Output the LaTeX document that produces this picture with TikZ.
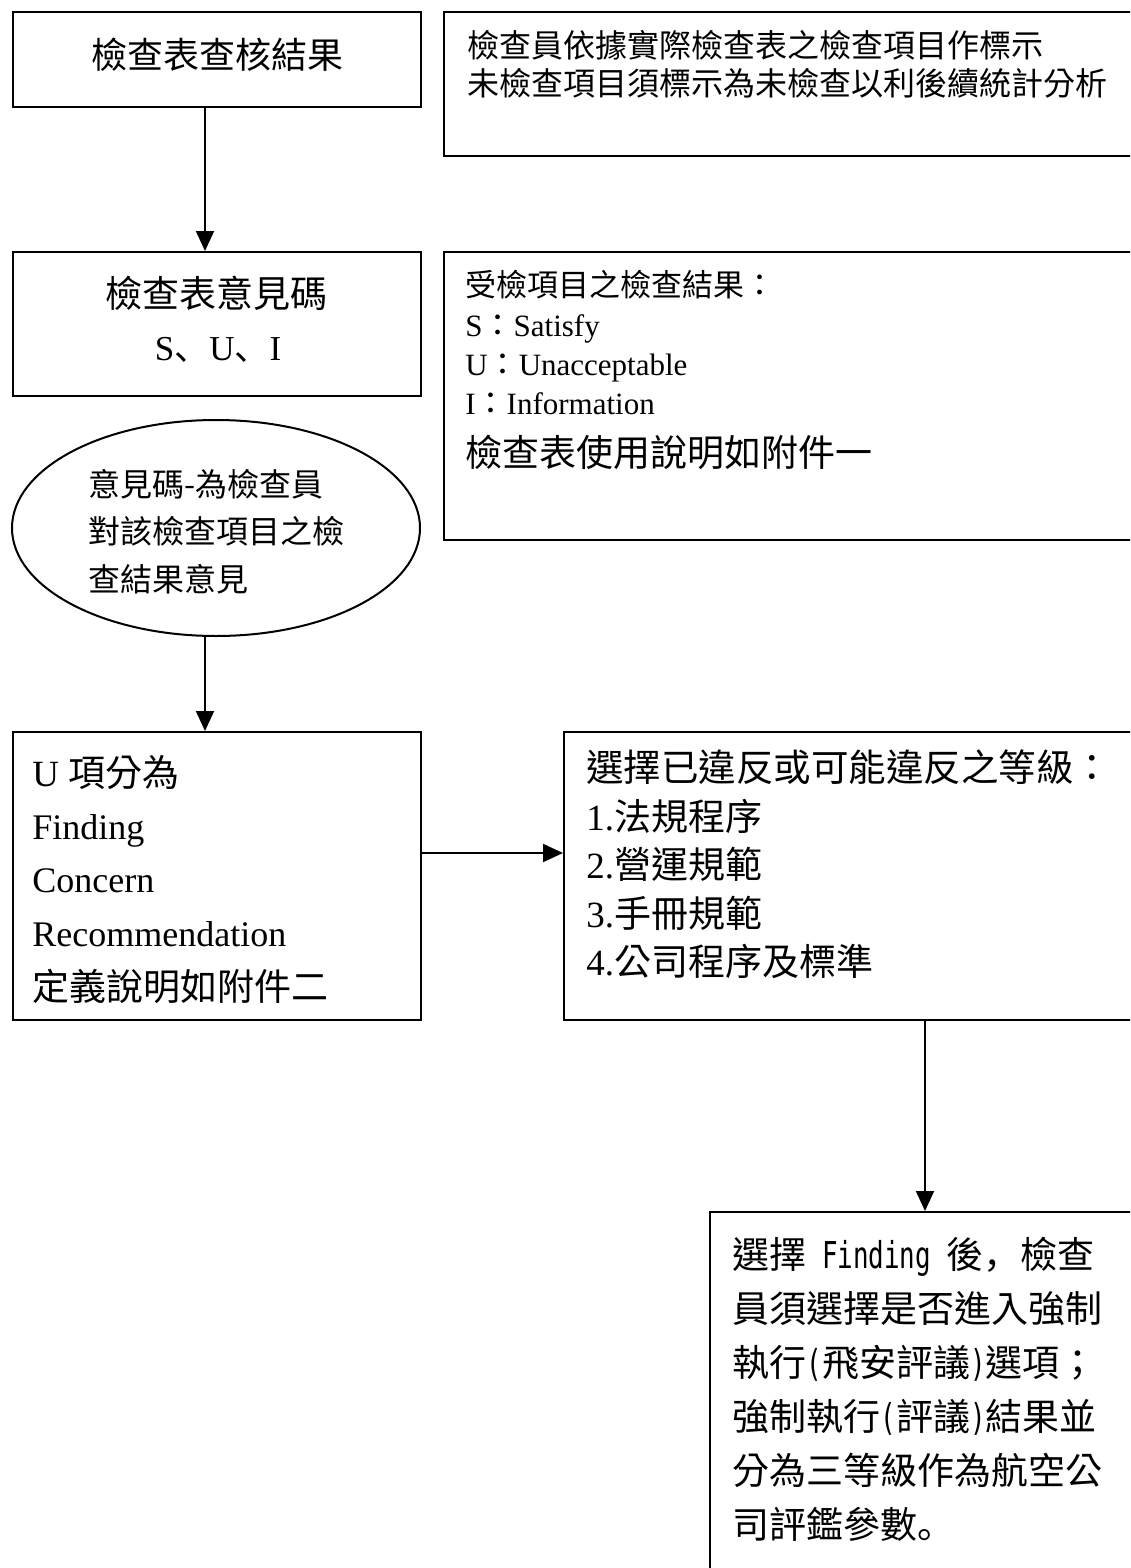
\documentclass[tikz,border=0pt]{standalone}
\usepackage{fontspec}
\setmainfont{Noto Sans CJK TC}
\newfontfamily\tm{Liberation Serif}
\newfontfamily\jp{Noto Sans CJK JP}
\newfontfamily\mono[FakeStretch=0.7]{DejaVu Sans Mono}
\usetikzlibrary{arrows.meta,shapes.geometric,fit}
\newcommand\fs[1]{\fontsize{#1pt}{#1pt}\selectfont}
\begin{document}
\begin{tikzpicture}[x=0.5pt,y=-0.5pt,
  box/.style={draw,line width=1pt,inner sep=0pt,rectangle},
  ln/.style={inner sep=0pt,anchor=base west},
  lc/.style={inner sep=0pt,anchor=base},
  arr/.style={line width=1pt,-{Triangle[length=10pt,width=9pt]}}]
\useasboundingbox (0,0) rectangle (1130,1568);
\clip (0,0) rectangle (1130,1568);
\fill[white] (0,0) rectangle (1130,1568);

% boxes
\node[box,fit={(13,12) (421,107)}] (b1) {};
\node[box,fit={(444,12) (1150,156)}] (r1) {};
\node[box,fit={(13,252) (421,396)}] (b2) {};
\node[box,fit={(444,252) (1150,540)}] (r2) {};
\node[draw,line width=1pt,ellipse,inner sep=0pt,minimum width=204pt,minimum height=108pt] (el) at (216,528) {};
\node[box,fit={(13,732) (421,1020)}] (b3) {};
\node[box,fit={(564,732) (1150,1020)}] (b4) {};
\node[box,fit={(710,1212) (1150,1620)}] (b5) {};

% texts
\node[lc] (t1) at (217,69) {\fs{18}檢查表查核結果};

\node[ln] (r1a) at (467,58) {\fs{16}檢查員依據實際檢查表之檢查項目作標示};
\node[ln] (r1b) at (467,96) {\fs{16}未檢查項目須標示為未檢查以利後續統計分析};

\node[lc] (t2a) at (216,307) {\fs{18.5}檢查表意見碼};
\node[lc] (t2b) at (218,360) {\fs{17.5}{\tm S}{\jp 、}{\tm U}{\jp 、}{\tm I}};

\node[ln] (r2a) at (465,296) {\fs{15.5}受檢項目之檢查結果：};
\node[ln] (r2b) at (465,336) {\fs{15.5}{\tm S}：{\tm Satisfy}};
\node[ln] (r2c) at (465,375) {\fs{15.5}{\tm U}：{\tm Unacceptable}};
\node[ln] (r2d) at (465,414) {\fs{15.5}{\tm I}：{\tm Information}};
\node[ln] (r2e) at (465,466) {\fs{18.5}檢查表使用說明如附件一};

\node[ln] (e1) at (88,496) {\fs{16}意見碼-為檢查員};
\node[ln] (e2) at (88,543) {\fs{16}對該檢查項目之檢};
\node[ln] (e3) at (88,591) {\fs{16}查結果意見};

\node[ln] (t3a) at (32,786) {\fs{18.5}{\tm U }項分為};
\node[ln] (t3b) at (32,839) {\fs{18}\tm Finding};
\node[ln] (t3c) at (32,892) {\fs{18}\tm Concern};
\node[ln] (t3d) at (32,946) {\fs{18}\tm Recommendation};
\node[ln] (t3e) at (32,1000) {\fs{18.5}定義說明如附件二};

\node[ln] (t4a) at (586,781) {\fs{18.75}選擇已違反或可能違反之等級：};
\node[ln] (t4b) at (586,830) {\fs{18.5}{\tm 1.}法規程序};
\node[ln] (t4c) at (586,878) {\fs{18.5}{\tm 2.}營運規範};
\node[ln] (t4d) at (586,927) {\fs{18.5}{\tm 3.}手冊規範};
\node[ln] (t4e) at (586,975) {\fs{18.5}{\tm 4.}公司程序及標準};

\node[ln] (t5a) at (732,1268) {\fs{18.5}選擇{\mono\ Finding\ }後{\jp ，}檢查};
\node[ln] (t5b) at (732,1322) {\fs{18.5}員須選擇是否進入強制};
\node[ln] (t5c) at (732,1376) {\fs{18.5}執行{\mono(}飛安評議{\mono)}選項；};
\node[ln] (t5d) at (732,1430) {\fs{18.5}強制執行{\mono(}評議{\mono)}結果並};
\node[ln] (t5e) at (732,1484) {\fs{18.5}分為三等級作為航空公};
\node[ln] (t5f) at (732,1538) {\fs{18.5}司評鑑參數{\jp 。}};

% connectors
\coordinate (ax1) at (205,0);
\coordinate (ax2) at (925,0);
\coordinate (ay) at (0,853);
\draw[arr] (b1.south -| ax1) -- (b2.north -| ax1);
\draw[arr] (el.south -| ax1) -- (b3.north -| ax1);
\draw[arr] (b3.east |- ay) -- (b4.west |- ay);
\draw[arr] (b4.south -| ax2) -- (b5.north -| ax2);
\end{tikzpicture}
\end{document}
